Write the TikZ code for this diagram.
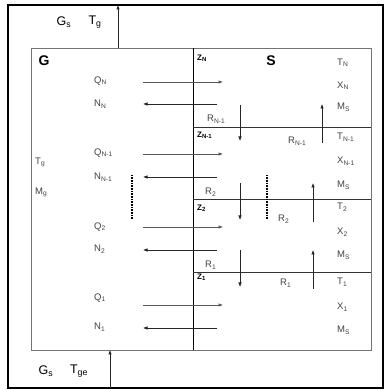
\documentclass[tikz,border=0pt]{standalone}
\usepackage{fontspec}
\setmainfont{Liberation Sans}
\usetikzlibrary{arrows.meta,positioning}
\newcommand{\subx}[1]{\textsubscript{#1}}
\tikzset{
  >={Latex[length=4.5pt,width=3.5pt]},
  lbl/.style={anchor=west,inner sep=0pt,text=black!75,font=\fontsize{9.5}{10}\selectfont},
  zlbl/.style={anchor=west,inner sep=0pt,font=\bfseries\fontsize{8}{9}\selectfont},
  head/.style={inner sep=0pt,font=\bfseries\fontsize{14}{15}\selectfont},
  ext/.style={inner sep=0pt,font=\fontsize{12.5}{13}\selectfont},
  flow/.style={->,line width=0.6pt,black!85},
  layer/.style={line width=0.6pt,black!80},
  dotbar/.style={line width=2pt,dash pattern=on 0.8pt off 0.8pt}
}
\begin{document}
\begin{tikzpicture}[x=1pt,y=1pt]
  \useasboundingbox (0,0) rectangle (384,390);
  % frames
  \coordinate (OA) at (8,2);
  \coordinate (OB) at (383,385);
  \coordinate (IA) at (31,40);
  \coordinate (IB) at (371,342);
  \coordinate (DT) at (193,342);
  \coordinate (DB) at (193,40);
  \draw[line width=1.6pt] (OA) rectangle (OB);
  \draw[black!55,line width=0.8pt] (IA) rectangle (IB);
  \draw[line width=0.6pt] (DT) -- (DB);
  % gas in and out
  \coordinate (GoA) at (118,342);
  \coordinate (GoB) at (118,385);
  \coordinate (GiA) at (110,2);
  \coordinate (GiB) at (110,40);
  \draw[flow] (GoA) -- (GoB);
  \draw[flow] (GiA) -- (GiB);
  \node (GsT) [ext] at (64,368) {G\subx{s}};
  \node (TgT) [ext] at (95,368) {T\subx{g}};
  \node (GsB) [ext] at (46,19) {G\subx{s}};
  \node (TgB) [ext] at (79,19) {T\subx{ge}};
  \node (G) [head] at (44,329) {G};
  \node (S) [head] at (271,329) {S};
  \node (Tg) [lbl] at (35,228) {T\subx{g}};
  \node (Mg) [lbl] at (35,198) {M\subx{g}};
  % exchange between G and S
  \foreach \i/\yq/\yn in {N/308/286, M/236/213, B/163/140, A/85/62} {
    \coordinate (Q\i w) at (143,\yq);
    \coordinate (Q\i e) at (223,\yq);
    \coordinate (N\i e) at (217,\yn);
    \coordinate (N\i w) at (143,\yn);
    \draw[flow,black!65] (Q\i w) -- (Q\i e);
    \draw[flow] (N\i e) -- (N\i w);
  }
  \node (QN) [lbl] at (94,309) {Q\subx{N}};
  \node (NN) [lbl] at (94,286) {N\subx{N}};
  \node (QM) [lbl] at (94,237) {Q\subx{N-1}};
  \node (NM) [lbl] at (94,213) {N\subx{N-1}};
  \node (QB) [lbl] at (94,163) {Q\subx{2}};
  \node (NB) [lbl] at (94,141) {N\subx{2}};
  \node (QA) [lbl] at (94,92) {Q\subx{1}};
  \node (NA) [lbl] at (94,63) {N\subx{1}};
  % layers of S
  \foreach \i/\y in {M/263, B/191, A/118} {
    \coordinate (L\i w) at (193,\y);
    \coordinate (L\i e) at (371,\y);
    \draw[layer] (L\i w) -- (L\i e);
  }
  \coordinate (DMa) at (240,285);
  \coordinate (DMb) at (240,249);
  \coordinate (DBa) at (240,207);
  \coordinate (DBb) at (240,170);
  \coordinate (DAa) at (240,140);
  \coordinate (DAb) at (240,103);
  \coordinate (UMa) at (322,247);
  \coordinate (UMb) at (322,286);
  \coordinate (UBa) at (313,168);
  \coordinate (UBb) at (313,207);
  \coordinate (UAa) at (313,101);
  \coordinate (UAb) at (313,140);
  \draw[flow] (DMa) -- (DMb);
  \draw[flow] (DBa) -- (DBb);
  \draw[flow] (DAa) -- (DAb);
  \draw[flow] (UMa) -- (UMb);
  \draw[flow] (UBa) -- (UBb);
  \draw[flow] (UAa) -- (UAb);
  % omitted layers
  \coordinate (VGa) at (132,215);
  \coordinate (VGb) at (132,171);
  \coordinate (VSa) at (267,215);
  \coordinate (VSb) at (267,171);
  \draw[dotbar] (VGa) -- (VGb);
  \draw[dotbar] (VSa) -- (VSb);
  \node (ZN) [zlbl] at (197,332) {Z\subx{N}};
  \node (ZM) [zlbl] at (197,255) {Z\subx{N-1}};
  \node (ZB) [zlbl] at (197,182) {Z\subx{2}};
  \node (ZA) [zlbl] at (197,113) {Z\subx{1}};
  \node (RMl) [lbl] at (207,271) {R\subx{N-1}};
  \node (RBl) [lbl] at (205,198) {R\subx{2}};
  \node (RAl) [lbl] at (205,125) {R\subx{1}};
  \node (RMr) [lbl] at (288,249) {R\subx{N-1}};
  \node (RBr) [lbl] at (278,171) {R\subx{2}};
  \node (RAr) [lbl] at (280,107) {R\subx{1}};
  \node (TN) [lbl] at (337,327) {T\subx{N}};
  \node (XN) [lbl] at (337,304) {X\subx{N}};
  \node (MN) [lbl] at (337,283) {M\subx{S}};
  \node (TM) [lbl] at (337,253) {T\subx{N-1}};
  \node (XM) [lbl] at (337,229) {X\subx{N-1}};
  \node (MM) [lbl] at (337,205) {M\subx{S}};
  \node (TB) [lbl] at (337,183) {T\subx{2}};
  \node (XB) [lbl] at (337,158) {X\subx{2}};
  \node (MB) [lbl] at (337,135) {M\subx{S}};
  \node (TA) [lbl] at (337,108) {T\subx{1}};
  \node (XA) [lbl] at (337,83) {X\subx{1}};
  \node (MA) [lbl] at (337,60) {M\subx{S}};
\end{tikzpicture}
\end{document}
